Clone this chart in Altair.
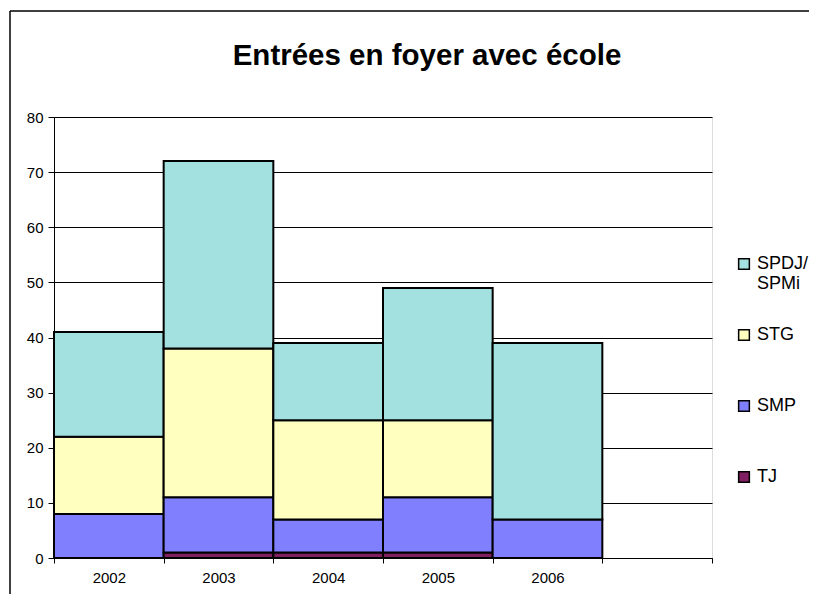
import altair as alt
import pandas as pd

years = ["2002", "2003", "2004", "2005", "2006"]
tj = [0, 1, 1, 1, 0]
smp = [8, 10, 6, 10, 7]
stg = [14, 27, 18, 14, 0]
spdj = [19, 34, 14, 24, 32]

series_names = ["SPDJ/SPMi", "STG", "SMP", "TJ"]
series_colors = ["#A3E0E0", "#FFFFC0", "#8080FF", "#802060"]
stack_order = {"TJ": 1, "SMP": 2, "STG": 3, "SPDJ/SPMi": 4}

rows = []
for i, y in enumerate(years):
    for name, vals in [("TJ", tj), ("SMP", smp), ("STG", stg), ("SPDJ/SPMi", spdj)]:
        if vals[i] > 0:
            rows.append({"year": y, "series": name, "value": vals[i], "ord": stack_order[name]})
df = pd.DataFrame(rows)

W, H = 658, 441
FONT = "Liberation Sans"

bars = alt.Chart(df).mark_bar(stroke="black", strokeWidth=2).encode(
    x=alt.X("year:N", scale=alt.Scale(domain=years + [" "], paddingInner=0, paddingOuter=0),
            axis=alt.Axis(title=None, labelAngle=0, tickBand="extent", domainColor="black",
                          tickColor="black", tickSize=5, labelPadding=7, labelFontSize=15,
                          labelFont=FONT, labelColor="black", grid=False)),
    y=alt.Y("value:Q", stack="zero",
            scale=alt.Scale(domain=[0, 80], nice=False),
            axis=alt.Axis(title=None, values=list(range(0, 81, 10)), grid=True,
                          gridColor="black", gridOpacity=1, gridWidth=1,
                          domainColor="black", tickColor="black", tickSize=6,
                          labelPadding=5, labelFontSize=15, labelFont=FONT,
                          labelColor="black")),
    color=alt.Color("series:N", scale=alt.Scale(domain=series_names, range=series_colors),
                    legend=alt.Legend(title=None, orient="none", legendX=681, legendY=138,
                                      symbolType="square", symbolSize=115,
                                      symbolStrokeColor="black", symbolStrokeWidth=1.5,
                                      labelFont=FONT, labelFontSize=18, labelColor="black",
                                      labelLimit=300, rowPadding=33, labelOffset=4,
                                      gridAlign="all",
                                      labelExpr="datum.label == 'SPDJ/SPMi' ? ['SPDJ/', 'SPMi'] : datum.label")),
    order=alt.Order("ord:Q"),
)

frame_df = pd.DataFrame({"a": [0]})
frame_left = alt.Chart(frame_df).mark_rule(color="black", strokeWidth=1.5).encode(
    x=alt.value(-44), y=alt.value(-106), y2=alt.value(H + 40))
frame_top = alt.Chart(frame_df).mark_rule(color="black", strokeWidth=1.5).encode(
    x=alt.value(-44), x2=alt.value(W + 110), y=alt.value(-106))

chart = alt.layer(frame_left, frame_top, bars).properties(
    width=W, height=H,
    title=alt.Title("Entrées en foyer avec école", font=FONT, fontSize=29.5, fontWeight="bold",
                    color="black", anchor="middle", dx=44, offset=-90, baseline="bottom"),
    autosize=alt.AutoSizeParams(type="none"),
    padding={"left": 46, "top": 109, "right": 97, "bottom": 36},
).configure_view(stroke=None).configure(background="white")

chart.save("out.html", embed_options={"renderer": "svg", "actions": False})
